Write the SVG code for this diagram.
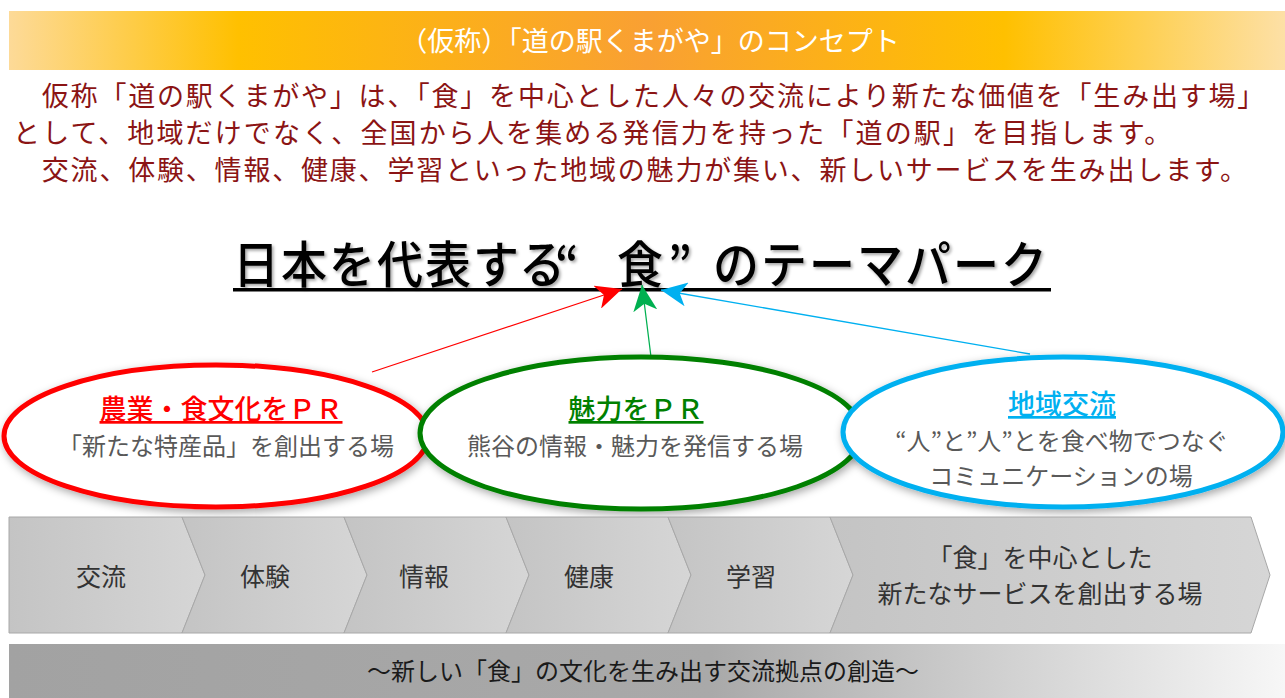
<svg xmlns="http://www.w3.org/2000/svg" width="1285" height="698" viewBox="0 0 1285 698">
<defs>
<linearGradient id="hdr" x1="0" y1="0" x2="1" y2="0">
<stop offset="0" stop-color="#fdda98"/>
<stop offset="0.18" stop-color="#ffc000"/>
<stop offset="0.5" stop-color="#f9a033"/>
<stop offset="0.78" stop-color="#ffc000"/>
<stop offset="1" stop-color="#fde0a6"/>
</linearGradient>
<linearGradient id="chev" x1="0" y1="0" x2="1" y2="0">
<stop offset="0" stop-color="#c4c4c4"/>
<stop offset="1" stop-color="#d6d6d6"/>
</linearGradient>
<linearGradient id="foot" x1="0" y1="0" x2="1" y2="0">
<stop offset="0" stop-color="#a2a2a2"/>
<stop offset="0.55" stop-color="#a9a9a9"/>
<stop offset="1" stop-color="#f7f7f7"/>
</linearGradient>
<filter id="sh" x="-10%" y="-20%" width="120%" height="140%">
<feDropShadow dx="2" dy="3" stdDeviation="4" flood-color="#000" flood-opacity="0.35"/>
</filter>
<filter id="tsh" x="-5%" y="-20%" width="110%" height="140%">
<feDropShadow dx="2" dy="2" stdDeviation="1.5" flood-color="#000" flood-opacity="0.35"/>
</filter>
<marker id="arR" viewBox="0 0 26 24" markerWidth="26" markerHeight="24" refX="26" refY="12" orient="auto" markerUnits="userSpaceOnUse">
<path d="M0,0 L26,12 L0,24 L7,12 Z" fill="#ff0000"/>
</marker>
<marker id="arG" viewBox="0 0 26 24" markerWidth="26" markerHeight="24" refX="26" refY="12" orient="auto" markerUnits="userSpaceOnUse">
<path d="M0,0 L26,12 L0,24 L7,12 Z" fill="#00b050"/>
</marker>
<marker id="arB" viewBox="0 0 26 24" markerWidth="26" markerHeight="24" refX="26" refY="12" orient="auto" markerUnits="userSpaceOnUse">
<path d="M0,0 L26,12 L0,24 L7,12 Z" fill="#00b0f0"/>
</marker>
</defs>
<style>
text{font-family:"Noto Sans CJK JP","Noto Sans",sans-serif;}
.para{font-size:27px;fill:#8b1414;letter-spacing:1.8px;}
.sub{font-size:24px;fill:#595959;text-anchor:middle;}
.head{font-size:27px;text-anchor:middle;text-decoration:underline;font-weight:500;}
.chev{fill:url(#chev);stroke:#a8a8a8;stroke-width:1;}
.ctext{font-size:25px;fill:#333;text-anchor:middle;}
.ell{fill:#fff;stroke-width:5;filter:url(#sh);}
</style>
<rect width="1285" height="698" fill="#fff"/>

<g id="header">
<rect x="9" y="11" width="1276" height="59" fill="url(#hdr)"/>
<text x="650" y="51" font-size="27" fill="#fff" text-anchor="middle">（仮称）「道の駅くまがや」のコンセプト</text>
</g>

<g id="paragraph">
<text class="para" x="13" y="106">　仮称「道の駅くまがや」は、「食」を中心とした人々の交流により新たな価値を「生み出す場」</text>
<text class="para" x="13" y="143" textLength="1160" lengthAdjust="spacing">として、地域だけでなく、全国から人を集める発信力を持った「道の駅」を目指します。</text>
<text class="para" x="13" y="180">　交流、体験、情報、健康、学習といった地域の魅力が集い、新しいサービスを生み出します。</text>
</g>

<g id="title">
<text transform="translate(233,283) scale(0.92,1)" x="0 52.2 104.3 156.5 208.7 260.9 311 350 417.4 472.8 521.7 573.9 626.1 678.3 730.4 782.6 834.8" y="0" font-size="50" font-weight="500" fill="#000" filter="url(#tsh)">日本を代表する“食”のテーマパーク</text>
<rect x="233" y="288" width="818" height="3.5" fill="#000"/>
</g>

<g id="connectors" fill="none" stroke-width="1.3">
<line x1="372" y1="372" x2="622" y2="289" stroke="#ff0000" marker-end="url(#arR)"/>
<line x1="651" y1="357" x2="642" y2="285" stroke="#00b050" marker-end="url(#arG)"/>
<line x1="1030" y1="354" x2="661" y2="290" stroke="#00b0f0" marker-end="url(#arB)"/>
</g>

<g id="node-pr">
<ellipse class="ell" cx="216" cy="436" rx="212" ry="71" stroke="#ff0000"/>
<text class="head" x="221" y="419" fill="#ff0000">農業・食文化をＰＲ</text>
<text class="sub" x="226" y="455">「新たな特産品」を創出する場</text>
</g>

<g id="node-miryoku">
<ellipse class="ell" cx="641" cy="433" rx="221" ry="76" stroke="#008000"/>
<text class="head" x="636" y="419" fill="#008000">魅力をＰＲ</text>
<text class="sub" x="635" y="455">熊谷の情報・魅力を発信する場</text>
</g>

<g id="node-chiiki">
<ellipse class="ell" cx="1063" cy="432" rx="220" ry="75" stroke="#00b0f0"/>
<text class="head" x="1062" y="414" fill="#00b0f0">地域交流</text>
<text class="sub" x="1062" y="450">“人”と”人”とを食べ物でつなぐ</text>
<text class="sub" x="1061" y="485">コミュニケーションの場</text>
</g>

<g id="chevrons">
<g id="step-koryu">
<path class="chev" d="M9,517 L182,517 L205,575 L182,633 L9,633 Z"/>
<text class="ctext" x="101" y="586">交流</text>
</g>
<g id="step-taiken">
<path class="chev" d="M182,517 L344,517 L367,575 L344,633 L182,633 L205,575 Z"/>
<text class="ctext" x="265" y="586">体験</text>
</g>
<g id="step-joho">
<path class="chev" d="M344,517 L506,517 L529,575 L506,633 L344,633 L367,575 Z"/>
<text class="ctext" x="424" y="586">情報</text>
</g>
<g id="step-kenko">
<path class="chev" d="M506,517 L668,517 L691,575 L668,633 L506,633 L529,575 Z"/>
<text class="ctext" x="589" y="586">健康</text>
</g>
<g id="step-gakushu">
<path class="chev" d="M668,517 L830,517 L853,575 L830,633 L668,633 L691,575 Z"/>
<text class="ctext" x="751" y="586">学習</text>
</g>
<g id="step-service">
<path class="chev" d="M830,517 L1251,517 L1270,575 L1251,633 L830,633 L853,575 Z"/>
<text class="ctext" x="1040" y="567">「食」を中心とした</text>
<text class="ctext" x="1040" y="603">新たなサービスを創出する場</text>
</g>
</g>

<g id="footer">
<rect x="9" y="644" width="1276" height="54" fill="url(#foot)"/>
<text x="643" y="680" font-size="24" fill="#1a1a1a" text-anchor="middle">～新しい「食」の文化を生み出す交流拠点の創造～</text>
</g>
</svg>
